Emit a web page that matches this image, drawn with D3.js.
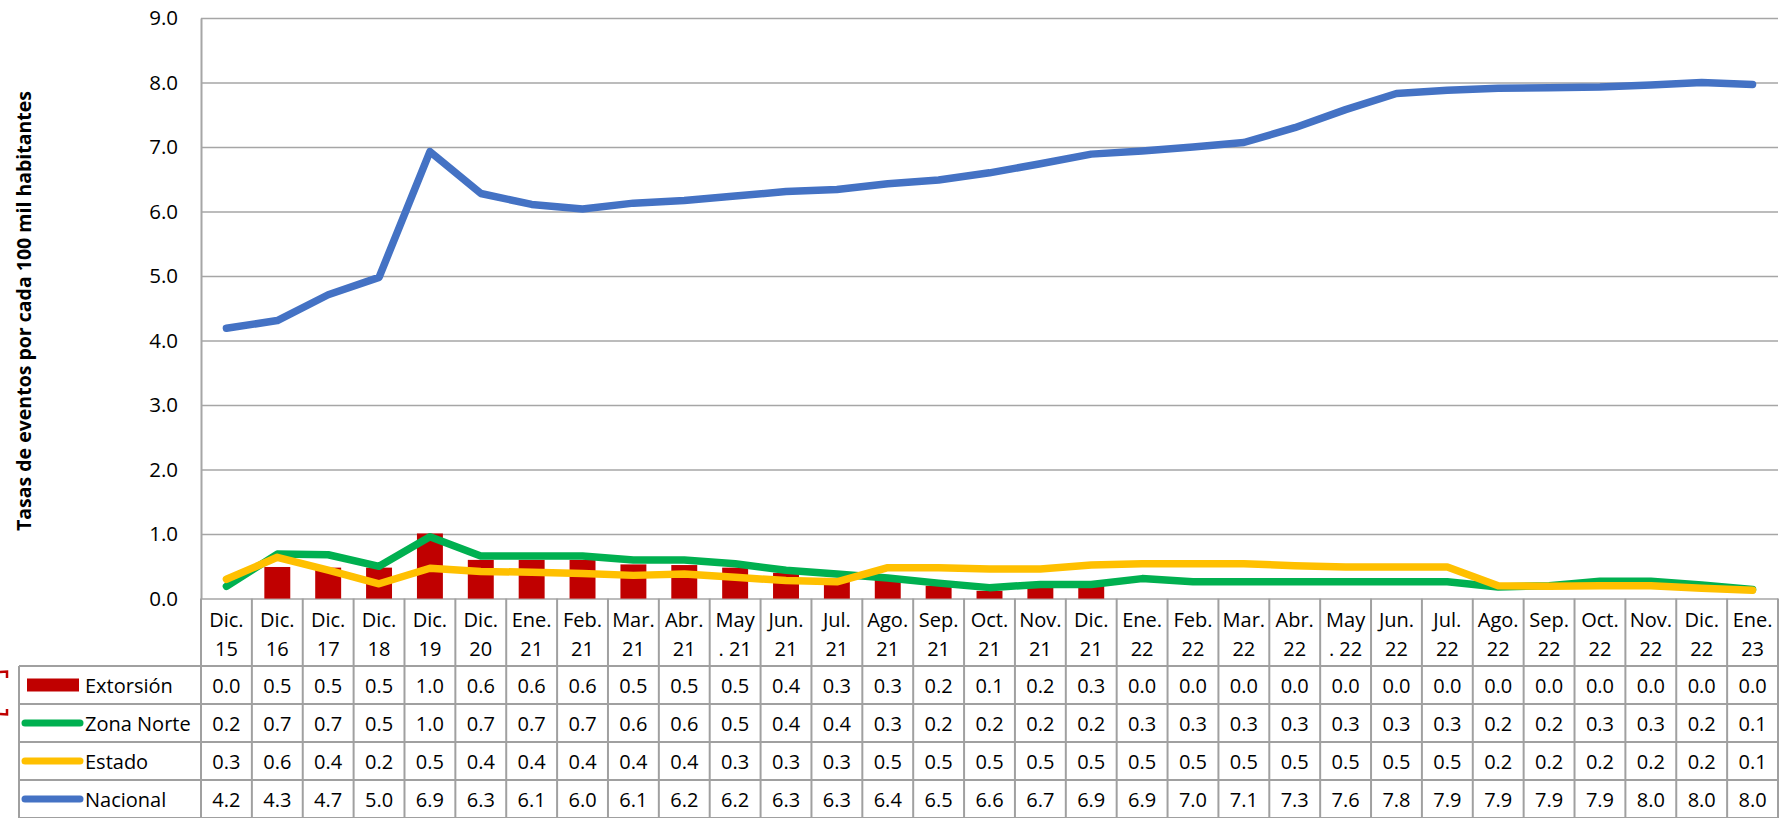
<!DOCTYPE html>
<html>
<head>
<meta charset="utf-8">
<script src="https://cdn.jsdelivr.net/npm/d3@7"></script>
<style>
  body { margin: 0; background: #fff; }
  svg { display: block; font-family: "Open Sans", "DejaVu Sans", sans-serif; }
</style>
</head>
<body>
<svg id="chart" width="1791" height="818"></svg>
<script>
// categorias (mes / año), en dos renglones
var categories = ["Dic.\n15", "Dic.\n16", "Dic.\n17", "Dic.\n18", "Dic.\n19", "Dic.\n20",
    "Ene.\n21", "Feb.\n21", "Mar.\n21", "Abr.\n21", "May\n. 21", "Jun.\n21", "Jul.\n21",
    "Ago.\n21", "Sep.\n21", "Oct.\n21", "Nov.\n21", "Dic.\n21",
    "Ene.\n22", "Feb.\n22", "Mar.\n22", "Abr.\n22", "May\n. 22", "Jun.\n22", "Jul.\n22",
    "Ago.\n22", "Sep.\n22", "Oct.\n22", "Nov.\n22", "Dic.\n22", "Ene.\n23"];

var extorsion = [0.0, 0.49, 0.48, 0.48, 1.01, 0.6,
    0.6, 0.6, 0.53, 0.52, 0.48, 0.4, 0.32, 0.3, 0.2, 0.12, 0.2, 0.26,
    0, 0, 0, 0, 0, 0, 0, 0, 0, 0, 0, 0, 0];

var zonaNorte = [0.19, 0.69, 0.68, 0.5, 0.96, 0.66,
    0.66, 0.66, 0.6, 0.6, 0.54, 0.44, 0.38, 0.32, 0.24, 0.17, 0.22, 0.22,
    0.31, 0.26, 0.26, 0.26, 0.26, 0.26, 0.26, 0.18, 0.2, 0.27, 0.27, 0.21, 0.14];

var estado = [0.3, 0.64, 0.44, 0.23, 0.47, 0.42,
    0.41, 0.39, 0.36, 0.38, 0.33, 0.28, 0.26, 0.48, 0.48, 0.46, 0.46, 0.52,
    0.54, 0.54, 0.54, 0.51, 0.49, 0.49, 0.49, 0.2, 0.19, 0.2, 0.2, 0.16, 0.13];

var nacional = [4.19, 4.31, 4.71, 4.98, 6.93, 6.28,
    6.11, 6.04, 6.13, 6.17, 6.24, 6.31, 6.34, 6.43, 6.49, 6.6, 6.74, 6.89,
    6.94, 7.0, 7.07, 7.3, 7.58, 7.83, 7.88, 7.91, 7.92, 7.93, 7.96, 8.0, 7.97];

var yTicks = [0, 1, 2, 3, 4, 5, 6, 7, 8, 9];
var yTitle = "Tasas de eventos por cada 100 mil habitantes";

var series = [
    {name: "Extorsión", values: extorsion, color: "#c00000", type: "bar"},
    {name: "Zona Norte", values: zonaNorte, color: "#00b050", type: "line"},
    {name: "Estado", values: estado, color: "#ffc000", type: "line"},
    {name: "Nacional", values: nacional, color: "#4472c4", type: "line"}
];

var svg = d3.select("#chart");
var plotLeft = 201, plotRight = 1778, plotTop = 18, plotBottom = 598.6;
var headerBottom = 666, rowH = 38, legendLeft = 19;
var grey = "#a6a6a6", fmt = d3.format(".1f");

var x = d3.scaleBand().domain(categories).range([plotLeft, plotRight]);
var y = d3.scaleLinear().domain([0, 9]).range([plotBottom, plotTop]);
var bw = x.bandwidth();

// rejilla + eje y
var gy = svg.append("g")
    .attr("transform", "translate(" + plotLeft + ",0)")
    .call(d3.axisLeft(y).tickValues(yTicks).tickFormat(fmt)
        .tickSize(-(plotRight - plotLeft)).tickSizeOuter(0).tickPadding(23));
gy.select(".domain").attr("stroke", grey).attr("stroke-width", 2);
gy.selectAll(".tick line").attr("stroke", grey).attr("stroke-width", 1.5);
gy.selectAll(".tick text").attr("font-size", 20.5).attr("fill", "#000")
    .attr("font-family", "Open Sans");

svg.append("text")
    .attr("transform", "translate(23," + 311 + ") rotate(-90)")
    .attr("text-anchor", "middle")
    .attr("dominant-baseline", "central")
    .attr("font-size", 19.5)
    .attr("font-weight", "bold")
    .text(yTitle);

// barras
svg.append("g").selectAll("rect")
    .data(extorsion)
    .enter().append("rect")
    .attr("x", function(d, i) { return x(categories[i]) + bw * 0.245; })
    .attr("width", bw * 0.51)
    .attr("y", function(d) { return y(d); })
    .attr("height", function(d) { return y(0) - y(d); })
    .attr("fill", series[0].color);

// lineas
var line = d3.line()
    .x(function(d, i) { return x(categories[i]) + bw / 2; })
    .y(function(d) { return y(d); });

svg.append("g").selectAll("path")
    .data(series.filter(function(s) { return s.type === "line"; }))
    .enter().append("path")
    .attr("d", function(s) { return line(s.values); })
    .attr("fill", "none")
    .attr("stroke", function(s) { return s.color; })
    .attr("stroke-width", 7.5)
    .attr("stroke-linecap", "round")
    .attr("stroke-linejoin", "round");

// tabla de datos
var table = svg.append("g");
var tableBottom = headerBottom + rowH * series.length;
var border = "#a0a0a0";

// encabezados
categories.forEach(function(c) {
    var parts = c.split("\n");
    var cx = x(c) + bw / 2;
    table.append("text").attr("x", cx).attr("y", 619.5)
        .attr("text-anchor", "middle").attr("dominant-baseline", "central")
        .attr("font-size", 20).text(parts[0]);
    table.append("text").attr("x", cx).attr("y", 648.5)
        .attr("text-anchor", "middle").attr("dominant-baseline", "central")
        .attr("font-size", 20).text(parts[1]);
});

series.forEach(function(s, r) {
    var cy = headerBottom + rowH * r + rowH / 2;
    if (s.type === "bar") {
        table.append("rect").attr("x", 27).attr("y", cy - 6.5)
            .attr("width", 52).attr("height", 13).attr("fill", s.color);
    } else {
        table.append("line").attr("x1", 25).attr("x2", 80)
            .attr("y1", cy).attr("y2", cy)
            .attr("stroke", s.color).attr("stroke-width", 7)
            .attr("stroke-linecap", "round");
    }
    table.append("text").attr("x", 85).attr("y", cy)
        .attr("dominant-baseline", "central").attr("font-size", 20)
        .text(s.name);
    s.values.forEach(function(v, i) {
        table.append("text").attr("x", x(categories[i]) + bw / 2).attr("y", cy)
            .attr("text-anchor", "middle").attr("dominant-baseline", "central")
            .attr("font-size", 20).text(fmt(v));
    });
});

// bordes de la tabla
var edges = categories.map(function(c) { return x(c); }).concat([plotRight]);
table.selectAll(".vline").data(edges).enter().append("line")
    .attr("x1", function(d) { return d; }).attr("x2", function(d) { return d; })
    .attr("y1", plotBottom).attr("y2", tableBottom)
    .attr("stroke", border).attr("stroke-width", 2);
table.append("line").attr("x1", legendLeft).attr("x2", legendLeft)
    .attr("y1", headerBottom).attr("y2", tableBottom)
    .attr("stroke", border).attr("stroke-width", 2);
d3.range(series.length + 1).forEach(function(r) {
    var yy = headerBottom + rowH * r;
    table.append("line").attr("x1", legendLeft).attr("x2", plotRight)
        .attr("y1", yy).attr("y2", yy)
        .attr("stroke", border).attr("stroke-width", 2);
});

// marcas rojas sueltas en el borde izquierdo
svg.append("path").attr("d", "M0,672 L7,671.5 L7,678")
    .attr("fill", "none").attr("stroke", "#c00000").attr("stroke-width", 2.5);
svg.append("path").attr("d", "M0,714 L7,714.5 L7,709")
    .attr("fill", "none").attr("stroke", "#c00000").attr("stroke-width", 2.5);
</script>
</body>
</html>
